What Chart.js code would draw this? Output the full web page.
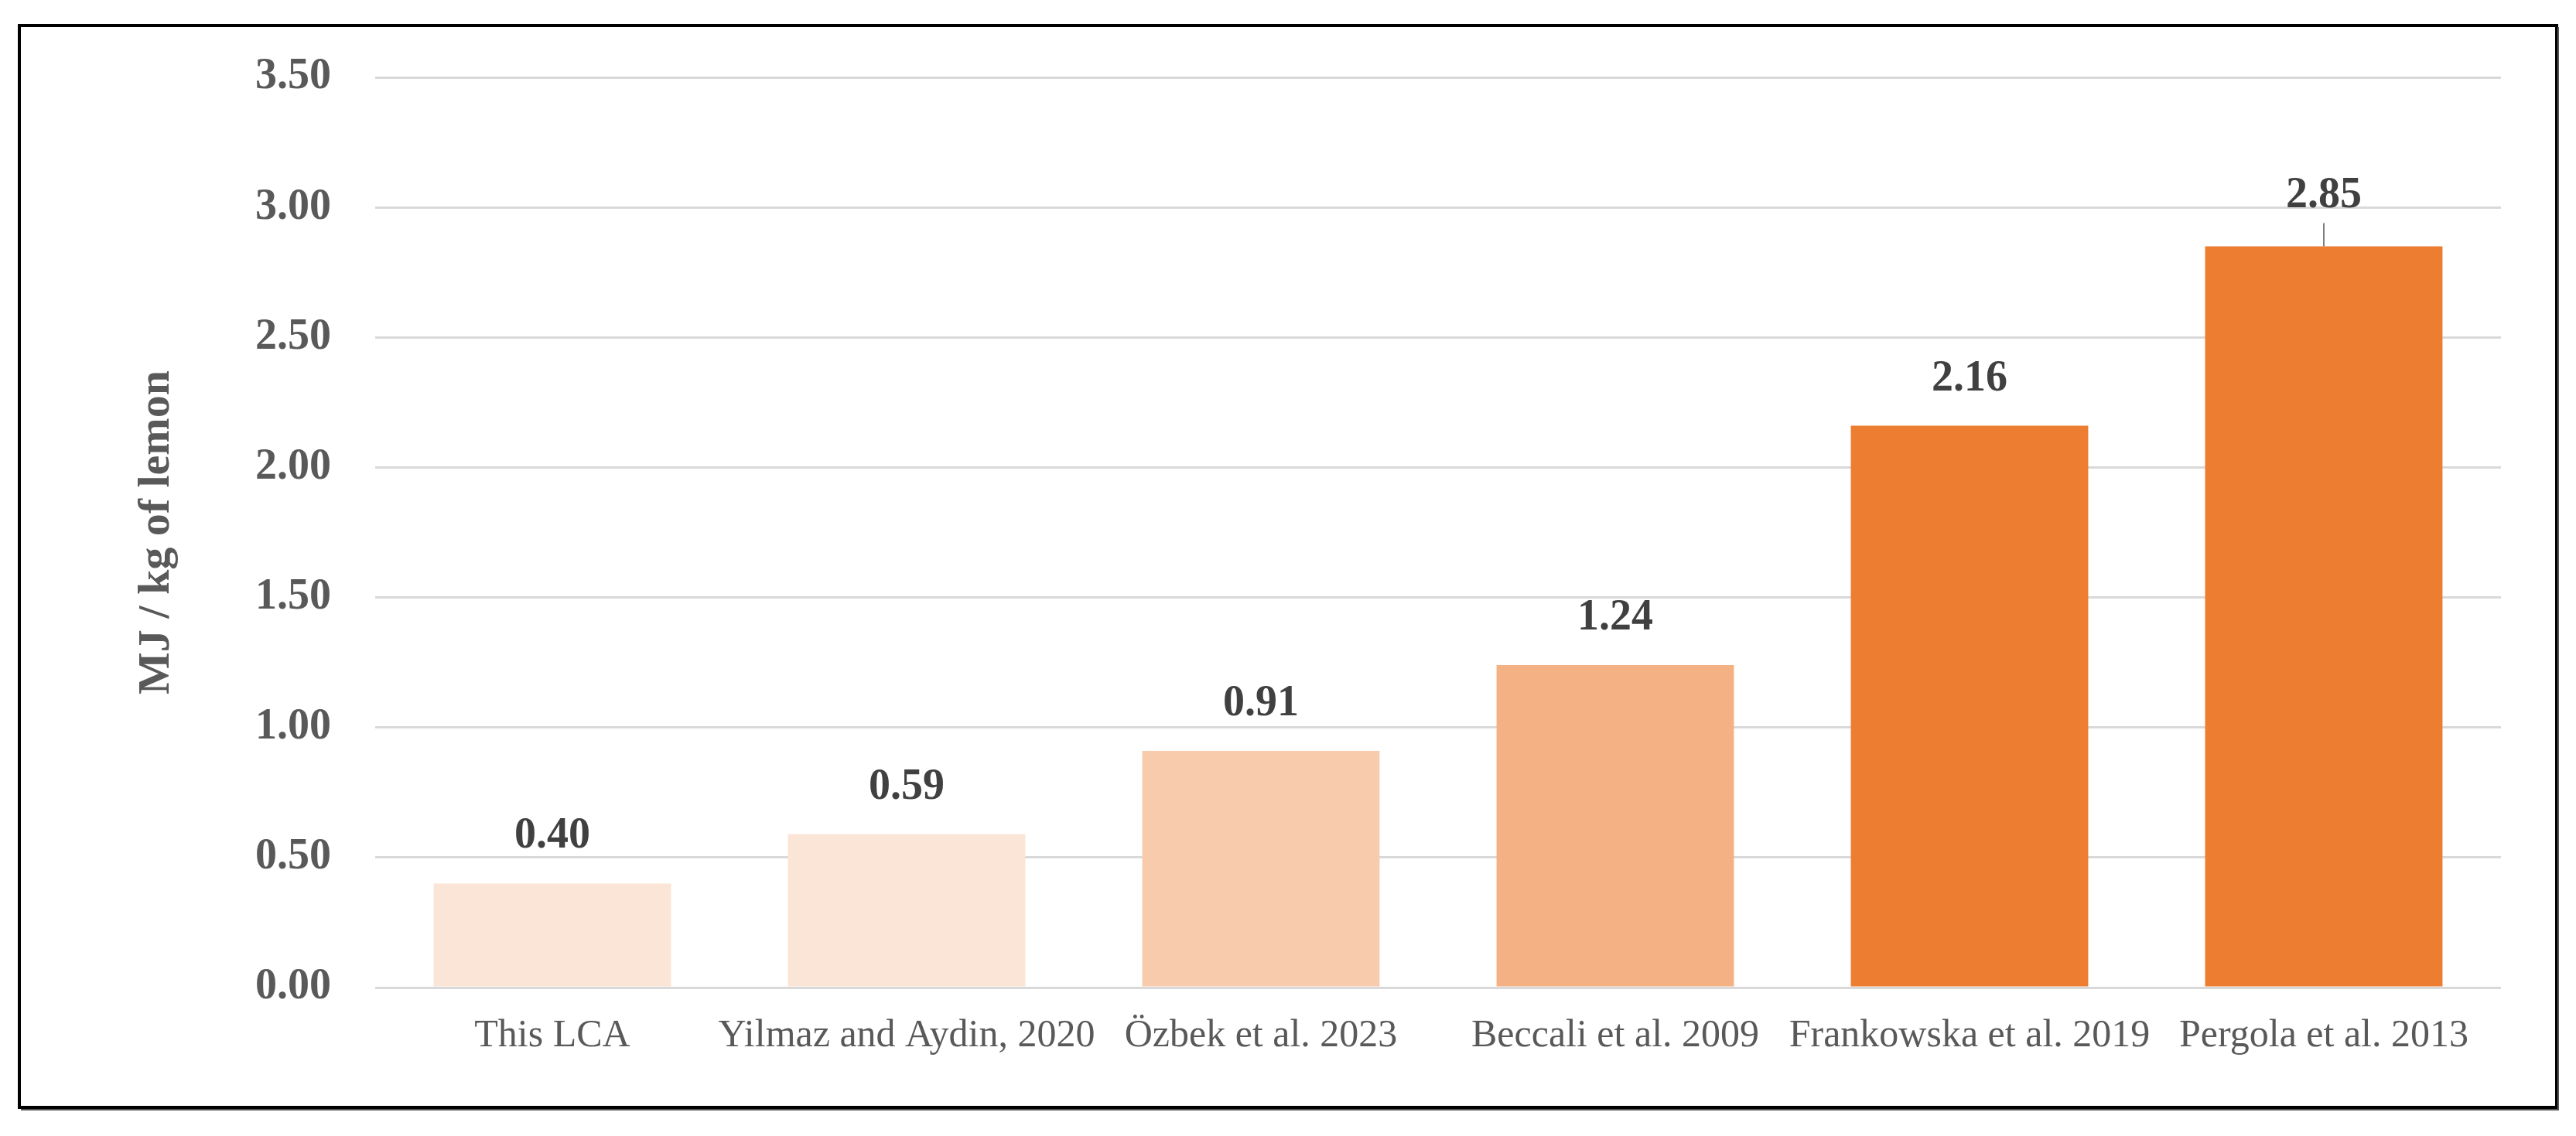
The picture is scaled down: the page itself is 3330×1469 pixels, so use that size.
<!DOCTYPE html>
<html>
<head>
<meta charset="utf-8">
<style>
  html, body { margin: 0; padding: 0; background: #fff; }
  #wrap { position: relative; width: 3330px; height: 1469px; }
</style>
<script src="https://cdn.jsdelivr.net/npm/chart.js"></script>
</head>
<body>
<div id="wrap"><canvas id="bar-chart" width="3330" height="1469"></canvas></div>
<script>
const categories = ['This LCA', 'Yilmaz and Aydin, 2020', 'Özbek et al. 2023', 'Beccali et al. 2009', 'Frankowska et al. 2019', 'Pergola et al. 2013'];
const values = [0.40, 0.59, 0.91, 1.24, 2.16, 2.85];
const barColors = ['#FBE5D6', '#FBE5D6', '#F8CBAD', '#F4B183', '#ED7D31', '#ED7D31'];
const yTicks = [0, 0.5, 1, 1.5, 2, 2.5, 3, 3.5];
const yTitle = 'MJ / kg of lemon';

const serif = "'Liberation Serif', 'Times New Roman', serif";

// value labels above bars, the last one pushed up with a short leader line
const valueLabels = {
    id: 'valueLabels',
    afterDatasetsDraw(chart) {
        const ctx = chart.ctx;
        const bars = chart.getDatasetMeta(0).data;
        ctx.save();
        ctx.font = `bold 56px ${serif}`;
        ctx.fillStyle = '#404040';
        ctx.textAlign = 'center';
        ctx.textBaseline = 'alphabetic';
        bars.forEach((bar, i) => {
            const last = i === bars.length - 1;
            const gap = last ? 51 : 46;
            ctx.fillText(values[i].toFixed(2), bar.x, bar.y - gap);
            if (last) {
                ctx.strokeStyle = '#7F7F7F';
                ctx.lineWidth = 2;
                ctx.beginPath();
                ctx.moveTo(bar.x, bar.y - 30);
                ctx.lineTo(bar.x, bar.y);
                ctx.stroke();
            }
        });
        ctx.restore();
    }
};

const frame = {
    id: 'frame',
    beforeDraw(chart) {
        const ctx = chart.ctx;
        ctx.save();
        ctx.fillStyle = '#fff';
        ctx.fillRect(0, 0, chart.width, chart.height);
        ctx.restore();
    },
    afterDraw(chart) {
        const ctx = chart.ctx;
        ctx.save();
        ctx.strokeStyle = '#000';
        ctx.lineWidth = 4;
        ctx.strokeRect(25, 33, 3280, 1399);
        ctx.strokeStyle = '#555';
        ctx.lineWidth = 2;
        ctx.beginPath();
        ctx.moveTo(27, 1435);
        ctx.lineTo(3307, 1435);
        ctx.lineTo(3307, 35);
        ctx.stroke();
        ctx.restore();
    }
};

new Chart(document.getElementById('bar-chart'), {
    type: 'bar',
    data: {
        labels: categories,
        datasets: [{
            data: values,
            backgroundColor: barColors,
            borderWidth: 0,
            barPercentage: 0.67,
            categoryPercentage: 1.0
        }]
    },
    options: {
        responsive: false,
        animation: false,
        devicePixelRatio: 1,
        layout: {
            padding: { left: 0, top: 100, right: 97, bottom: 0 }
        },
        plugins: {
            legend: { display: false },
            tooltip: { enabled: false }
        },
        scales: {
            x: {
                grid: { display: false, drawTicks: false },
                border: { display: false },
                ticks: {
                    color: '#595959',
                    font: { family: serif, size: 50 },
                    padding: 33,
                    maxRotation: 0,
                    autoSkip: false
                },
                afterFit(scale) { scale.height = 192; }
            },
            y: {
                min: 0,
                max: 3.5,
                afterBuildTicks(scale) { scale.ticks = yTicks.map(v => ({ value: v })); },
                grid: { color: '#D9D9D9', lineWidth: 3, drawTicks: false },
                border: { display: false },
                ticks: {
                    color: '#595959',
                    font: { family: serif, size: 56, weight: 'bold' },
                    padding: 57,
                    callback: v => v.toFixed(2)
                },
                title: {
                    display: true,
                    text: yTitle,
                    color: '#595959',
                    font: { family: serif, size: 58, weight: 'bold' },
                    padding: { top: 168, bottom: 0 }
                },
                afterFit(scale) { scale.width = 485; }
            }
        }
    },
    plugins: [frame, valueLabels]
});
</script>
</body>
</html>
